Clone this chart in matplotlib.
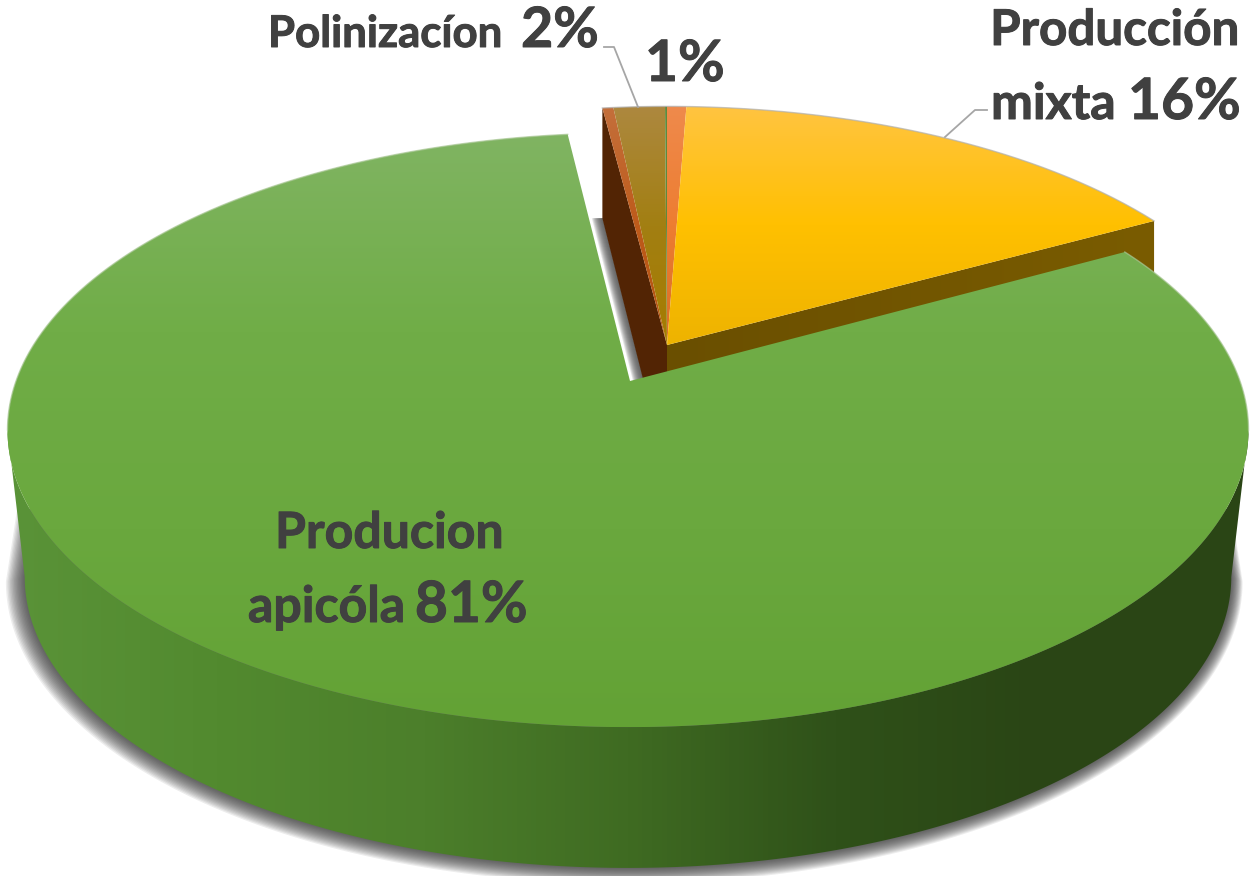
import numpy as np
import matplotlib
matplotlib.use('Agg')
import matplotlib.pyplot as plt
import matplotlib.patheffects as pe
from matplotlib.colors import LinearSegmentedColormap
from matplotlib.patches import Polygon

plt.rcParams['font.family'] = ['Lato', 'DejaVu Sans']

# slice shares in percent, clockwise starting at the thin strip left of the top
slice_names = ['Resto', 'Polinizacion', 'Borde', 'Otros', 'Produccion mixta', 'Produccion apicola']
slice_values = [0.34, 1.6, 0.06, 0.6, 16.4, 81.17]

PERSP = 0.165  # how much the far side of the pie shrinks
START = -7.2  # angle of the first slice edge
TEXT_COLOR = '#404040'
LEADER_COLOR = '#A6A6A6'

fig = plt.figure(figsize=(12.51, 8.76), dpi=100)
ax = fig.add_axes([0, 0, 1, 1])


def project(theta, cx, cy, a, b):
    # theta in degrees, clockwise from the back of the pie
    t = np.radians(theta)
    w = 1 + PERSP * np.cos(t)
    return np.column_stack([cx + a * np.sin(t) / w, cy - b * np.cos(t) / w])


def arc(t0, t1, disc):
    return project(np.linspace(t0, t1, max(int(abs(t1 - t0) * 3), 2)), *disc)


def gradient_fill(verts, colors, vertical=True, zorder=1):
    # paint a linear gradient clipped to the polygon
    x0, y0 = verts.min(axis=0)
    x1, y1 = verts.max(axis=0)
    cmap = LinearSegmentedColormap.from_list('g', colors)
    ramp = np.linspace(0, 1, 256)
    ramp = ramp[:, None] if vertical else ramp[None, :]
    im = ax.imshow(ramp, cmap=cmap, extent=(x0, x1, y1, y0), aspect='auto',
                   origin='upper', zorder=zorder, interpolation='bilinear')
    clip = Polygon(verts, closed=True, transform=ax.transData)
    im.set_clip_path(clip)


edges = START + np.concatenate([[0], np.cumsum(slice_values)]) * 3.6

top_disc = (628, 381, 612, 289)
low_disc = (628, 529, 595, 283)
out_top = (667, 345, 600, 278)
out_low = (667, 474, 600, 300)
apex = np.array([630.0, 381.0])

# angles where the disc is widest, the wall silhouette runs between them
side_r = np.degrees(np.arccos(-PERSP))
side_l = 360 - side_r

# soft shadow under the pie, a bit further out on the left
low_outline = arc(side_r, side_l, low_disc)
sil = np.vstack([arc(side_r, side_l, top_disc)[[0, -1]], low_outline])
shadow_base = np.vstack([low_outline, project(np.array([side_l + 8, side_r - 8]), 628, 500, 590, 275)])
for grow in np.linspace(15, 1, 14):
    pts = (shadow_base - [628, 529]) * [1 + grow / 600, 1 + grow / 400] + [628 - grow * 0.25, 529 + grow * 0.2]
    ax.add_patch(Polygon(pts, closed=True, fc='#303030', ec='none', alpha=0.085, zorder=0.5))

# shadow in the gap next to the dark wall
green_end = project(np.array([edges[6]]), *top_disc)[0]
gap_top = apex + (green_end - apex) * 0.66
for d in np.linspace(3, 13, 11):
    shade = np.array([gap_top + [d, 0], apex + [d, 0], apex + [14, 0], gap_top + [14, 0]])
    ax.add_patch(Polygon(shade, closed=True, fc='#505050', ec='none', alpha=0.16, zorder=0.8))

# walls of the pulled out slices
brown_pt = project(edges[:1], *out_top)[0]
brown_low = project(edges[:1], *out_low)[0]
wall = np.array([brown_pt, out_top[:2], out_low[:2], brown_low])
ax.add_patch(Polygon(wall, closed=True, fc='#522404', ec='none', zorder=1))

yellow_pt = project(edges[5:6], *out_top)[0]
yellow_low = project(edges[5:6], *out_low)[0]
wall = np.array([out_top[:2], yellow_pt, yellow_low, out_low[:2]])
gradient_fill(wall, ['#6A4F00', '#7A5C00'], vertical=False, zorder=1)

# top faces of the pulled out slices
face_colors = [
    ['#C46F3B', '#BE5B1B', '#B3530F'],
    ['#AD883F', '#A27F12', '#A67C00'],
    ['#5E8A3C', '#5E8A3C'],
    ['#EF8A4C', '#ED7D31', '#D96F27'],
    ['#FFC441', '#FFC000', '#EEB300'],
]
for i, cols in enumerate(face_colors):
    face = np.vstack([[out_top[:2]], arc(edges[i], edges[i + 1], out_top)])
    gradient_fill(face, cols, zorder=2)

rim = arc(edges[0], edges[5], out_top)
ax.plot(rim[:, 0], rim[:, 1], color='#B0B0B0', lw=1, alpha=0.7, zorder=2.5)

# big green slice: wall first, top face over it
wall = np.vstack([arc(side_r, side_l, top_disc), arc(side_r, side_l, low_disc)[::-1]])
gradient_fill(wall, ['#5A9338', '#528A2F', '#4C7F2B', '#3F6B22', '#2F5119', '#2A4515', '#2B4515'],
              vertical=False, zorder=3)

top_arc = arc(edges[5], edges[6], top_disc)
face = np.vstack([[apex], top_arc])
gradient_fill(face, ['#80B462', '#70AD47', '#6AA83E', '#63A235'], zorder=4)
for t0, t1 in [(edges[5], side_r), (side_l, edges[6])]:
    back = arc(t0, t1, top_disc)
    ax.plot(back[:, 0], back[:, 1], color='#A9C795', lw=1, alpha=0.7, zorder=4.5)

# leader lines
ax.plot([604, 614, 638], [47, 47, 107], color=LEADER_COLOR, lw=1.3, zorder=5)
ax.plot([987, 975, 945], [110, 110, 137], color=LEADER_COLOR, lw=1.3, zorder=5)

# labels
label_args = dict(color=TEXT_COLOR, fontweight='bold', va='baseline', zorder=6,
                  path_effects=[pe.withStroke(linewidth=0.7, foreground=TEXT_COLOR)])
ax.text(268, 47, 'Polinizacíon', ha='left', fontsize=31.5, **label_args)
ax.text(521, 47, '2%', ha='left', fontsize=40, **label_args)
ax.text(645, 81, '1%', ha='left', fontsize=41, **label_args)
ax.text(1239, 45, 'Producción', ha='right', fontsize=35.5, **label_args)
ax.text(991, 119, 'mixta', ha='left', fontsize=36, **label_args)
ax.text(1241, 119, '16%', ha='right', fontsize=41, **label_args)
ax.text(389, 548, 'Producion', ha='center', fontsize=36, **label_args)
ax.text(248, 622, 'apicóla', ha='left', fontsize=36, **label_args)
ax.text(528, 622, '81%', ha='right', fontsize=41, **label_args)

ax.set_xlim(0, 1251)
ax.set_ylim(876, 0)
ax.axis('off')

fig.savefig('out.png', dpi=100, facecolor='white')
